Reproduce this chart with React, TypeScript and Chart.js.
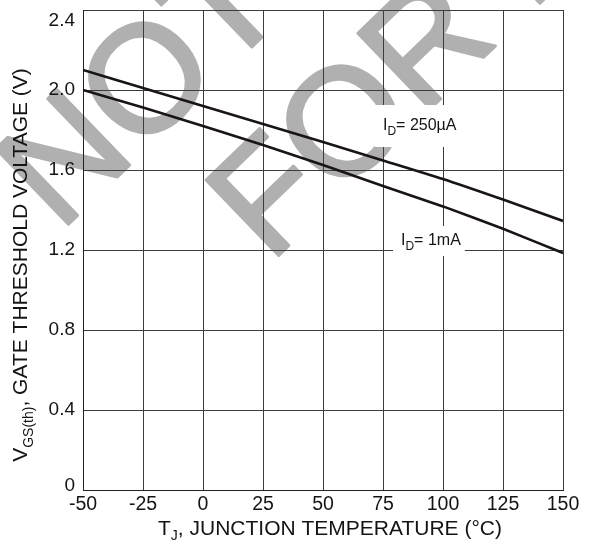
import React, { useEffect, useRef } from 'react';
import { Chart, registerables } from 'chart.js';

Chart.register(...registerables);

// ---- data ----
const temperatures = [-50, -25, 0, 25, 50, 75, 100, 125, 150];
const vgsth250uA = [2.1, 2.01, 1.92, 1.83, 1.74, 1.648, 1.555, 1.452, 1.345];
const vgsth1mA = [2.0, 1.912, 1.82, 1.725, 1.625, 1.52, 1.418, 1.306, 1.185];

const xMin = -50;
const xMax = 150;
const xStep = 25;
const yMin = 0;
const yMax = 2.4;
const yStep = 0.4;

// curve annotations: [main, subscript, rest], anchor (temperature, voltage)
const annotationTexts = [
  ['I', 'D', '= 250\u00B5A'],
  ['I', 'D', '= 1mA'],
];
const annotationAnchors = [
  [75, 1.8],
  [82.5, 1.225],
];

const FONT = '"Liberation Sans", Arial, Helvetica, sans-serif';
const GRID = '#3c3c3c';
const CURVE = '#1a1414';
const TEXT = '#141414';

type Part = { t: string; sub?: boolean };

function richWidth(ctx: CanvasRenderingContext2D, parts: Part[], size: number, subSize: number) {
  let w = 0;
  for (const p of parts) {
    ctx.font = `${p.sub ? subSize : size}px ${FONT}`;
    w += ctx.measureText(p.t).width;
  }
  return w;
}

function drawRich(
  ctx: CanvasRenderingContext2D,
  parts: Part[],
  x: number,
  y: number,
  size: number,
  subSize: number,
  subShift: number
) {
  let cx = x;
  for (const p of parts) {
    ctx.font = `${p.sub ? subSize : size}px ${FONT}`;
    ctx.fillText(p.t, cx, p.sub ? y + subShift : y);
    cx += ctx.measureText(p.t).width;
  }
}

const watermarkPlugin = {
  id: 'watermark',
  beforeDraw(chart: any) {
    const ctx: CanvasRenderingContext2D = chart.ctx;
    const fs = 152;
    const ang = (-44 * Math.PI) / 180;
    const lines: [string, number, number, string][] = [
      ['NOT', 143, 76, 'N'],
      ['FOR NEW', 341, 119, 'F'],
    ];
    ctx.save();
    ctx.fillStyle = '#b0b0b0';
    ctx.textAlign = 'left';
    ctx.textBaseline = 'alphabetic';
    for (const [txt, cx, cy, first] of lines) {
      ctx.save();
      ctx.translate(cx, cy);
      ctx.rotate(ang);
      ctx.font = `${fs}px ${FONT}`;
      ctx.lineWidth = 3;
      ctx.strokeStyle = '#b0b0b0';
      ctx.lineJoin = 'round';
      const w1 = ctx.measureText(first).width;
      const wO = ctx.measureText('O').width;
      const tx = -(w1 + wO / 2);
      const ty = 0.36 * fs;
      ctx.fillText(txt, tx, ty);
      ctx.strokeText(txt, tx, ty);
      ctx.restore();
    }
    ctx.restore();
  },
};

const annotationPlugin = {
  id: 'curveLabels',
  afterDatasetsDraw(chart: any) {
    const ctx: CanvasRenderingContext2D = chart.ctx;
    const xs = chart.scales.x;
    const ys = chart.scales.y;
    const boxPads = [
      [8, 8, 25, 17],
      [8, 4, 19, 11],
    ];
    ctx.save();
    ctx.textAlign = 'left';
    ctx.textBaseline = 'alphabetic';
    annotationTexts.forEach((tx, i) => {
      const parts: Part[] = [{ t: tx[0] }, { t: tx[1], sub: true }, { t: tx[2] }];
      const px = xs.getPixelForValue(annotationAnchors[i][0]);
      const py = ys.getPixelForValue(annotationAnchors[i][1]);
      const w = richWidth(ctx, parts, 16, 12);
      const [pl, pr, pt, pb] = boxPads[i];
      ctx.fillStyle = '#ffffff';
      ctx.fillRect(px - pl, py - pt, w + pl + pr, pt + pb);
      ctx.fillStyle = TEXT;
      drawRich(ctx, parts, px, py, 16, 12, 5);
    });
    ctx.restore();
  },
};

const axisTitlePlugin = {
  id: 'axisTitles',
  afterDraw(chart: any) {
    const ctx: CanvasRenderingContext2D = chart.ctx;
    const area = chart.chartArea;
    ctx.save();
    ctx.fillStyle = TEXT;
    ctx.textAlign = 'left';
    ctx.textBaseline = 'alphabetic';

    const xParts: Part[] = [{ t: 'T' }, { t: 'J', sub: true }, { t: ', JUNCTION TEMPERATURE (\u00B0C)' }];
    const xw = richWidth(ctx, xParts, 21, 14);
    const xc = (area.left + area.right) / 2 + 7;
    drawRich(ctx, xParts, xc - xw / 2, 535, 21, 14, 5);

    const yParts: Part[] = [{ t: 'V' }, { t: 'GS(th)', sub: true }, { t: ', GATE THRESHOLD VOLTAGE (V)' }];
    const yw = richWidth(ctx, yParts, 21, 14);
    const yc = (area.top + area.bottom) / 2 + 15;
    ctx.translate(27, yc);
    ctx.rotate(-Math.PI / 2);
    drawRich(ctx, yParts, -yw / 2, 0, 21, 14, 6);
    ctx.restore();
  },
};

export default function App() {
  const ref = useRef<HTMLCanvasElement | null>(null);

  useEffect(() => {
    if (!ref.current) return;
    const chart = new Chart(ref.current, {
      type: 'line',
      data: {
        datasets: [
          {
            label: 'ID = 250uA',
            data: temperatures.map((t, i) => ({ x: t, y: vgsth250uA[i] })),
            borderColor: CURVE,
            borderWidth: 2.6,
            pointRadius: 0,
            tension: 0.2,
            fill: false,
          },
          {
            label: 'ID = 1mA',
            data: temperatures.map((t, i) => ({ x: t, y: vgsth1mA[i] })),
            borderColor: CURVE,
            borderWidth: 2.6,
            pointRadius: 0,
            tension: 0.2,
            fill: false,
          },
        ],
      },
      options: {
        responsive: false,
        animation: false,
        layout: { padding: { top: 10, right: 26, left: 0, bottom: 0 } },
        plugins: {
          legend: { display: false },
          tooltip: { enabled: false },
          title: { display: false },
        },
        scales: {
          x: {
            type: 'linear',
            min: xMin,
            max: xMax,
            ticks: {
              stepSize: xStep,
              autoSkip: false,
              maxRotation: 0,
              padding: 3,
              color: TEXT,
              font: { family: FONT, size: 19.5 },
            },
            grid: { color: GRID, lineWidth: 1, drawTicks: false },
            border: { color: '#222', width: 1 },
            afterFit: (s: any) => {
              s.height = 51;
              s.paddingLeft = 0;
              s.paddingRight = 0;
            },
          },
          y: {
            type: 'linear',
            min: yMin,
            max: yMax,
            ticks: {
              stepSize: yStep,
              autoSkip: false,
              padding: 8,
              color: TEXT,
              font: (c: any) => {
                const v = c.tick ? c.tick.value : 1;
                if (Math.abs(v - yMax) < 1e-6) return { family: FONT, size: 19, lineHeight: '22px' };
                if (Math.abs(v) < 1e-6) return { family: FONT, size: 19, lineHeight: '8px' };
                return { family: FONT, size: 19 };
              },
              callback: (v: any) => {
                const n = Number(v);
                if (Math.abs(n) < 1e-6) return ['0', ''];
                if (Math.abs(n - yMax) < 1e-6) return ['', n.toFixed(1)];
                return n.toFixed(1);
              },
            },
            grid: { color: GRID, lineWidth: 1, drawTicks: false },
            border: { color: '#222', width: 1 },
            afterFit: (s: any) => {
              s.width = 83;
              s.paddingTop = 0;
              s.paddingBottom = 0;
            },
          },
        },
      },
      plugins: [watermarkPlugin, annotationPlugin, axisTitlePlugin],
    } as any);
    return () => chart.destroy();
  }, []);

  return (
    <div style={{ position: 'absolute', left: 0, top: 0, width: 589, height: 541, background: '#fff' }}>
      <canvas ref={ref} width={589} height={541} style={{ width: 589, height: 541, display: 'block' }} />
    </div>
  );
}
